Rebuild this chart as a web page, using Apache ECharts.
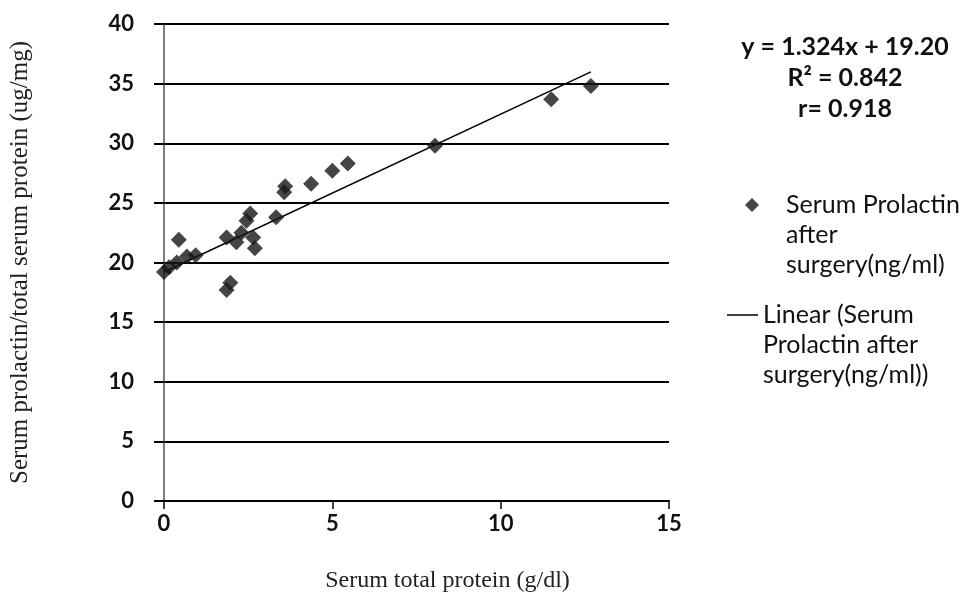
<!DOCTYPE html>
<html><head><meta charset="utf-8">
<script src="https://cdn.jsdelivr.net/npm/echarts@6/dist/echarts.min.js"></script>
<style>html,body{margin:0;padding:0;background:#fff}#c{width:979px;height:605px}</style>
</head><body><div id="c"></div>
<script>
const xValues = [0.0, 0.15, 0.38, 0.44, 0.68, 0.94, 1.86, 1.86, 1.97, 2.15, 2.3, 2.45, 2.56, 2.65, 2.7, 3.33, 3.57, 3.6, 4.37, 5.0, 5.46, 8.05, 11.5, 12.68];
const yValues = [19.2, 19.6, 20.0, 21.9, 20.5, 20.6, 22.1, 17.7, 18.3, 21.7, 22.5, 23.5, 24.1, 22.1, 21.2, 23.8, 25.9, 26.4, 26.6, 27.7, 28.3, 29.8, 33.7, 34.8];
const slope = 1.324, intercept = 19.20;
const eqLines = ['y = 1.324x + 19.20', 'R² = 0.842', 'r= 0.918'];
const xTicks = [0, 5, 10, 15];
const yTicks = [0, 5, 10, 15, 20, 25, 30, 35, 40];
const scatterName = 'Serum Prolactin\nafter\nsurgery(ng/ml)';
const lineName = 'Linear (Serum\nProlactin after\nsurgery(ng/ml))';

const pts = xValues.map((x, i) => [x, yValues[i]]);
const xmin = Math.min(...xValues), xmax = Math.max(...xValues);
const trend = [[xmin, slope * xmin + intercept], [xmax, slope * xmax + intercept]];

const chart = echarts.init(document.getElementById('c'));
const labelFont = {fontFamily: 'Lato', fontWeight: 'bold', fontSize: 22, color: '#111'};
const legendText = {fontFamily: 'Lato', fontSize: 25, color: '#111', lineHeight: 30};
chart.setOption({
  animation: false,
  backgroundColor: '#fff',
  grid: {left: 160, right: 310, top: 24, bottom: 104},
  xAxis: {
    type: 'value', min: 0, max: 15, interval: 5,
    name: 'Serum total protein (g/dl)', nameLocation: 'middle', nameGap: 68,
    nameTextStyle: {fontFamily: 'Liberation Serif', fontSize: 24, color: '#222', padding: [0, 0, 0, 62]},
    axisLine: {show: true, lineStyle: {color: '#000', width: 2}},
    axisTick: {show: true, length: 8, lineStyle: {color: '#000', width: 1.5}},
    axisLabel: Object.assign({margin: 12}, labelFont),
    splitLine: {show: false}
  },
  yAxis: {
    type: 'value', min: 0, max: 40, interval: 5,
    name: 'Serum prolactin/total serum protein (ug/mg)', nameLocation: 'middle', nameGap: 131,
    nameTextStyle: {fontFamily: 'Liberation Serif', fontSize: 25, color: '#222'},
    axisLine: {show: true, lineStyle: {color: '#555', width: 1.5}},
    axisTick: {show: true, length: 10, lineStyle: {color: '#000', width: 2}},
    axisLabel: Object.assign({margin: 30}, labelFont),
    splitLine: {show: true, lineStyle: {color: '#000', width: 2}}
  },
  legend: [
    {data: [{name: scatterName, icon: 'diamond'}], orient: 'vertical', left: 745, top: 130, padding: 0,
     itemWidth: 14, itemHeight: 14, itemGap: 0,
     formatter: n => '\n\n' + n,
     textStyle: Object.assign({padding: [0, 0, 0, 22]}, legendText)},
    {data: [{name: lineName, icon: 'rect'}], orient: 'vertical', left: 727, top: 240, padding: 0,
     itemWidth: 31, itemHeight: 1.5, itemGap: 0,
     formatter: n => '\n\n' + n,
     textStyle: legendText}
  ],
  graphic: eqLines.map((t, i) => ({
    type: 'text', x: 845, y: 47 + i * 31,
    style: {text: t, fontFamily: 'Lato', fontWeight: 'bold', fontSize: 25, fill: '#111', align: 'center', verticalAlign: 'middle'}
  })),
  series: [
    {name: scatterName, type: 'scatter', data: pts, symbol: 'diamond', symbolSize: 16,
     itemStyle: {color: '#161616'}, z: 3},
    {name: lineName, type: 'line', data: trend, symbol: 'none', showSymbol: false,
     lineStyle: {color: '#000', width: 1.5}, itemStyle: {color: '#000'}, z: 2}
  ]
});
</script></body></html>
